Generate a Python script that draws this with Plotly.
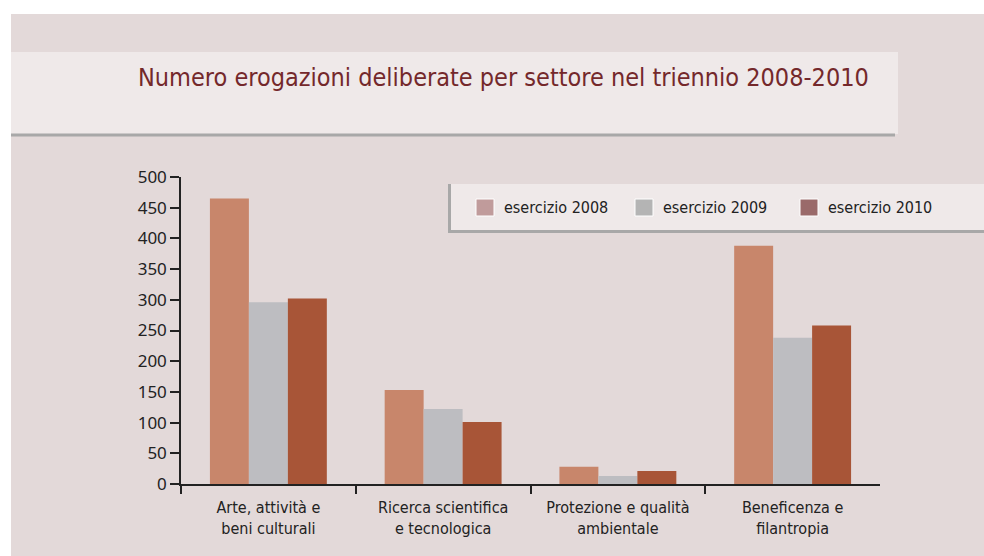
import plotly.graph_objects as go

categories = ["Arte, attività e<br>beni culturali", "Ricerca scientifica<br>e tecnologica",
              "Protezione e qualità<br>ambientale", "Beneficenza e<br>filantropia"]
series_names = ["esercizio 2008", "esercizio 2009", "esercizio 2010"]
values_2008 = [465, 153, 28, 388]
values_2009 = [296, 122, 13, 238]
values_2010 = [302, 101, 21, 258]
y_ticks = [0, 50, 100, 150, 200, 250, 300, 350, 400, 450, 500]

bar_colors = ["#c8866b", "#bdbdc1", "#a85537"]
legend_colors = ["#c09b9b", "#b4b4b4", "#9a6a6a"]
title_text = "Numero erogazioni deliberate per settore nel triennio 2008-2010"

W, H = 984, 556
L, R, T, B = 181, 104, 177, 72
PW, PH = W - L - R, H - T - B

def xp(px):
    return (px - L) / PW

def yp(py):
    return (H - B - py) / PH

NARROW = "Liberation Sans Narrow, DejaVu Sans Condensed, Roboto Condensed, Noto Sans, sans-serif"

fig = go.Figure()
for name, vals, col in zip(series_names, [values_2008, values_2009, values_2010], bar_colors):
    fig.add_trace(go.Bar(x=categories, y=vals, name=name, marker=dict(color=col, line=dict(width=0)),
                         showlegend=False))

# invisible helper trace for the boundary-tick axis
fig.add_trace(go.Scatter(x=[-0.5], y=[0], xaxis="x2", mode="markers",
                         marker=dict(opacity=0), hoverinfo="skip", showlegend=False))

shapes = []
# white top and left strips
shapes.append(dict(type="rect", xref="paper", yref="paper", x0=xp(0), x1=xp(W), y0=yp(0), y1=yp(14),
                   fillcolor="white", line=dict(width=0), layer="below"))
shapes.append(dict(type="rect", xref="paper", yref="paper", x0=xp(0), x1=xp(11), y0=yp(0), y1=yp(H),
                   fillcolor="white", line=dict(width=0), layer="below"))
# title band
shapes.append(dict(type="rect", xref="paper", yref="paper", x0=xp(11), x1=xp(898), y0=yp(52), y1=yp(134),
                   fillcolor="#efe9e9", line=dict(width=0), layer="below"))
shapes.append(dict(type="rect", xref="paper", yref="paper", x0=xp(11), x1=xp(895), y0=yp(133.5), y1=yp(136.5),
                   fillcolor="#a8a8a8", line=dict(width=0), layer="below"))
# legend box
shapes.append(dict(type="rect", xref="paper", yref="paper", x0=xp(448), x1=xp(W), y0=yp(184), y1=yp(233),
                   fillcolor="#efe9e9", line=dict(width=0), layer="above"))
shapes.append(dict(type="rect", xref="paper", yref="paper", x0=xp(448), x1=xp(451), y0=yp(184), y1=yp(233),
                   fillcolor="#a8a8a8", line=dict(width=0), layer="above"))
shapes.append(dict(type="rect", xref="paper", yref="paper", x0=xp(448), x1=xp(W), y0=yp(230), y1=yp(233),
                   fillcolor="#a8a8a8", line=dict(width=0), layer="above"))

annotations = [dict(text=title_text, xref="paper", yref="paper", x=xp(136), y=yp(77),
                    xanchor="left", yanchor="middle", showarrow=False,
                    font=dict(family=NARROW, size=25, color="#74282b"))]

sq_x = [476, 635, 800]
for name, col, sx in zip(series_names, legend_colors, sq_x):
    shapes.append(dict(type="rect", xref="paper", yref="paper", x0=xp(sx), x1=xp(sx + 18),
                       y0=yp(199), y1=yp(216), fillcolor=col, line=dict(color="white", width=1),
                       layer="above"))
    annotations.append(dict(text=name, xref="paper", yref="paper", x=xp(sx + 26), y=yp(207.5),
                            xanchor="left", yanchor="middle", showarrow=False,
                            font=dict(family=NARROW, size=16, color="#222222")))

fig.update_layout(
    width=W, height=H,
    margin=dict(l=L, r=R, t=T, b=B, pad=0),
    paper_bgcolor="#e3d9d9", plot_bgcolor="rgba(0,0,0,0)",
    barmode="group", bargap=0.331, bargroupgap=0,
    showlegend=False,
    shapes=shapes, annotations=annotations,
    xaxis=dict(type="category", showline=True, linecolor="#222222", linewidth=1.5,
               ticks="outside", ticklen=8, tickcolor="rgba(0,0,0,0)", showgrid=False,
               tickfont=dict(family=NARROW, size=16, color="#222222"), fixedrange=True),
    xaxis2=dict(overlaying="x", anchor="y", range=[-0.5, 3.5], tickvals=[-0.5, 0.5, 1.5, 2.5],
                ticks="outside", ticklen=9, tickwidth=1.5, tickcolor="#222222",
                showticklabels=False, showline=False, showgrid=False, zeroline=False, side="bottom"),
    yaxis=dict(range=[0, 500], tickvals=y_ticks, showline=True, linecolor="#222222", linewidth=1.5,
               ticks="outside", ticklen=9, tickwidth=1.5, tickcolor="#222222", showgrid=False, zeroline=False,
               tickfont=dict(family="Noto Sans, sans-serif", size=17, color="#222222")),
    font=dict(family=NARROW),
)

fig.write_html("out.html", config={"displayModeBar": False},
               post_script="document.body.style.margin='0';document.body.style.padding='0';")
